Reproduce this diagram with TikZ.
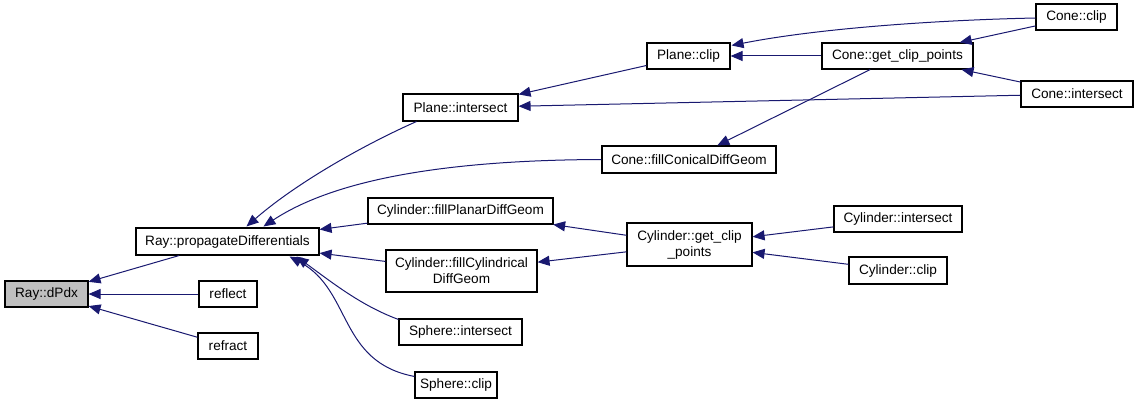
\documentclass[tikz,border=0pt]{standalone}
\usepackage{fontspec}
\setmainfont{Liberation Sans}
\usetikzlibrary{arrows.meta,calc}
\definecolor{edgeblue}{RGB}{25,25,112}
\definecolor{grayfill}{RGB}{191,191,191}
\begin{document}
\begin{tikzpicture}[x=1pt,y=-1pt,
  fn/.style={draw=black,line width=1.1pt,fill=white,inner sep=0pt,align=center,
    font=\fontsize{13.6}{16}\selectfont},
  arr/.style={draw=edgeblue,line width=1pt,
    -{Triangle[length=12pt,width=10pt]}}]
\useasboundingbox (0,0) rectangle (1139,404);
% nodes
\node[fn,fill=grayfill,minimum width=83pt,minimum height=26pt] (dpdx) at (46.5,294) {Ray::dPdx};
\node[fn,minimum width=58pt,minimum height=26pt] (reflect) at (228,294) {reflect};
\node[fn,minimum width=60pt,minimum height=26pt] (refract) at (228,346) {refract};
\node[fn,minimum width=183pt,minimum height=27pt] (prop) at (227.5,241.5) {Ray::propagateDifferentials};
\node[fn,minimum width=115pt,minimum height=27pt] (pint) at (460.5,107.5) {Plane::intersect};
\node[fn,minimum width=83pt,minimum height=26pt] (pclip) at (688.5,56) {Plane::clip};
\node[fn,minimum width=174pt,minimum height=27pt] (cfill) at (689,159.5) {Cone::fillConicalDiffGeom};
\node[fn,minimum width=151pt,minimum height=26pt] (cget) at (897.5,56) {Cone::get\_clip\_points};
\node[fn,minimum width=81pt,minimum height=26pt] (cclip) at (1076.5,17) {Cone::clip};
\node[fn,minimum width=112pt,minimum height=26pt] (cint) at (1077,94) {Cone::intersect};
\node[fn,minimum width=185pt,minimum height=26pt] (yplan) at (460.5,211) {Cylinder::fillPlanarDiffGeom};
\node[fn,minimum width=151pt,minimum height=42pt] (ycyl) at (461.5,271) {Cylinder::fillCylindrical\\DiffGeom};
\node[fn,minimum width=125pt,minimum height=43pt] (yget) at (689.5,244.5) {Cylinder::get\_clip\\\_points};
\node[fn,minimum width=128pt,minimum height=26pt] (yint) at (898,219) {Cylinder::intersect};
\node[fn,minimum width=98pt,minimum height=27pt] (yclip) at (898,270.5) {Cylinder::clip};
\node[fn,minimum width=123pt,minimum height=26pt] (sint) at (460.5,332) {Sphere::intersect};
\node[fn,minimum width=82pt,minimum height=26pt] (sclip) at (456,385) {Sphere::clip};
% edges
\begin{scope}[on background layer/.style={}]
\draw[arr] (reflect) -- (dpdx);
\draw[arr] (refract) -- (dpdx);
\draw[arr] (prop) -- (dpdx);
\draw[arr] ($(pint.south west)+(14,0)$) .. controls (370,142) and (300,180) .. ($(prop.north west)+(111,-1)$);
\draw[arr] (cfill.west) .. controls (460,160) and (340,176) .. ($(prop.north west)+(128,-1)$);
\draw[arr] (yplan) -- (prop);
\draw[arr] (ycyl) -- (prop);
\draw[arr] ($(sint.north west)+(0,1)$) .. controls (362,306) and (334,284) .. ($(prop.south east)+(-23,1)$);
\draw[arr] ($(sclip.north west)+(0,5)$) .. controls (338,362) and (352,290) .. ($(prop.south east)+(-30,1)$);
\draw[arr] (pclip) -- (pint);
\draw[arr] (cint) -- (pint);
\draw[arr] (cget) -- (pclip);
\draw[arr] ($(cclip.west)+(0,1)$) .. controls (940,20) and (820,28) .. ($(pclip.north east)+(1,3)$);
\draw[arr] (cget) -- (cfill);
\draw[arr] (cclip) -- (cget);
\draw[arr] (cint) -- (cget);
\draw[arr] (yget) -- (yplan);
\draw[arr] (yget) -- (ycyl);
\draw[arr] (yint) -- (yget);
\draw[arr] (yclip) -- (yget);
\end{scope}
\end{tikzpicture}
\end{document}
